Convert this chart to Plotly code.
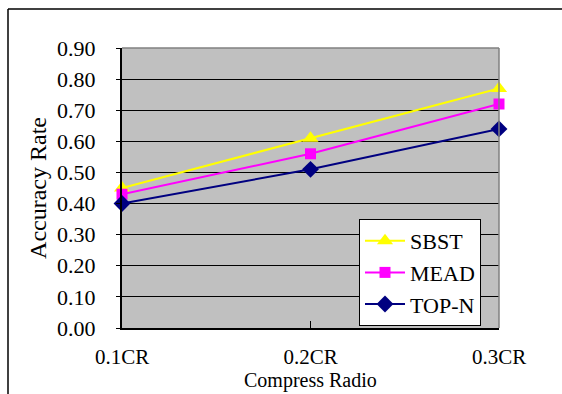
import plotly.graph_objects as go

categories = ["0.1CR", "0.2CR", "0.3CR"]
sbst = [0.45, 0.61, 0.77]
mead = [0.43, 0.56, 0.72]
topn = [0.40, 0.51, 0.64]
y_ticks = [0.0, 0.1, 0.2, 0.3, 0.4, 0.5, 0.6, 0.7, 0.8, 0.9]

FONT = "Liberation Serif"
xpos = list(range(len(categories)))

fig = go.Figure()
fig.add_trace(go.Scatter(x=xpos, y=sbst, name="SBST", mode="lines+markers",
                         line=dict(color="#ffff00", width=2), cliponaxis=False,
                         marker=dict(symbol="triangle-up", size=14, color="#ffff00")))
fig.add_trace(go.Scatter(x=xpos, y=mead, name="MEAD", mode="lines+markers",
                         line=dict(color="#ff00ff", width=2), cliponaxis=False,
                         marker=dict(symbol="square", size=11, color="#ff00ff")))
fig.add_trace(go.Scatter(x=xpos, y=topn, name="TOP-N", mode="lines+markers",
                         line=dict(color="#000080", width=2), cliponaxis=False,
                         marker=dict(symbol="diamond", size=13, color="#000080")))

L, R, T, B, W, H = 122, 63, 48, 66, 562, 394
pw, ph = W - L - R, H - T - B

def px(x):
    return (x - L) / pw

def py(y):
    return (H - B - y) / ph

fig.update_layout(
    width=W, height=H,
    margin=dict(l=L, r=R, t=T, b=B),
    paper_bgcolor="white",
    plot_bgcolor="#c0c0c0",
    font=dict(family=FONT, size=21, color="black"),
    showlegend=True,
    legend=dict(x=px(359), y=py(219), xanchor="left", yanchor="top",
                bgcolor="white", bordercolor="black", borderwidth=1,
                font=dict(family=FONT, size=22), tracegroupgap=0,
                itemwidth=40),
    xaxis=dict(range=[0, 2], tickmode="array", tickvals=xpos, ticktext=categories,
               showgrid=False, zeroline=False, showline=True, linecolor="black",
               linewidth=2, ticks="inside", ticklen=7, tickcolor="black",
               ticklabelstandoff=9, tickfont=dict(family=FONT, size=21),
               automargin=False),
    yaxis=dict(range=[0, 0.9], tickmode="array", tickvals=y_ticks,
               ticktext=[f"{v:.2f}" for v in y_ticks],
               showgrid=True, gridcolor="black", gridwidth=1, zeroline=False,
               showline=True, linecolor="black", linewidth=2,
               ticks="outside", ticklen=4, tickcolor="black",
               ticklabelstandoff=16, automargin=False,
               tickfont=dict(family=FONT, size=22),
               title=dict(text="Accuracy Rate", standoff=4,
                          font=dict(family=FONT, size=24))),
    annotations=[
        dict(text="Compress Radio", xref="paper", yref="paper", x=0.5, y=py(380),
             xanchor="center", yanchor="middle", showarrow=False, borderpad=0,
             font=dict(family=FONT, size=20)),
    ],
    shapes=[
        dict(type="line", xref="paper", yref="paper", x0=0, x1=1, y0=1, y1=1,
             line=dict(color="#808080", width=1.5)),
        dict(type="line", xref="paper", yref="paper", x0=1, x1=1, y0=0, y1=1,
             line=dict(color="#808080", width=1.5)),
        dict(type="line", xref="paper", yref="paper", x0=px(8), x1=px(W + 5),
             y0=py(9), y1=py(9), line=dict(color="black", width=1.5)),
        dict(type="line", xref="paper", yref="paper", x0=px(8), x1=px(8),
             y0=py(9), y1=py(H + 5), line=dict(color="black", width=1.5)),
    ],
)

fig.write_html("out.html")
